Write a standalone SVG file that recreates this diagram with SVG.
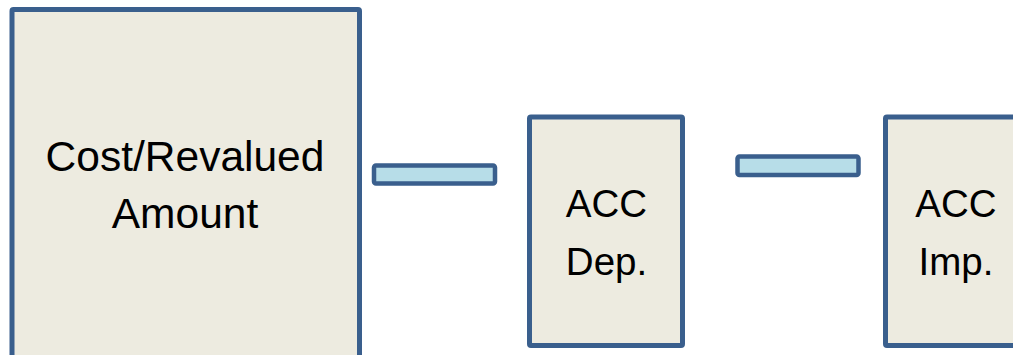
<svg xmlns="http://www.w3.org/2000/svg" width="1013" height="355" viewBox="0 0 1013 355">
<style>
.box{fill:#EDEBE0;stroke:#3A5F8D;stroke-width:5}
.bar{fill:#B7DDE8;stroke:#3A5F8D;stroke-width:4.5}
.t{font-family:"Liberation Sans",Arial,sans-serif;fill:#000;text-anchor:middle}
</style>
<rect width="1013" height="355" fill="#FFFFFF"/>
<g id="cost">
<rect class="box" x="12" y="9.5" width="347.5" height="360" rx="1.5"/>
<text class="t" x="185" y="170.5" font-size="42.5">Cost/Revalued</text>
<text class="t" x="185" y="228.3" font-size="42.5">Amount</text>
</g>
<g id="connectors">
<rect class="bar" x="374" y="165.5" width="121" height="18" rx="2"/>
<rect class="bar" x="737.5" y="156.5" width="121" height="18.5" rx="2"/>
</g>
<g id="accdep">
<rect class="box" x="529.5" y="117" width="153" height="228.5" rx="1.5"/>
<text class="t" x="606.5" y="217.3" font-size="38.5">ACC</text>
<text class="t" x="606.5" y="275" font-size="38.5">Dep.</text>
</g>
<g id="accimp">
<rect class="box" x="885.5" y="117" width="160" height="228.5" rx="1.5"/>
<text class="t" x="956" y="217.3" font-size="38.5">ACC</text>
<text class="t" x="956" y="275" font-size="38.5">Imp.</text>
</g>
</svg>
